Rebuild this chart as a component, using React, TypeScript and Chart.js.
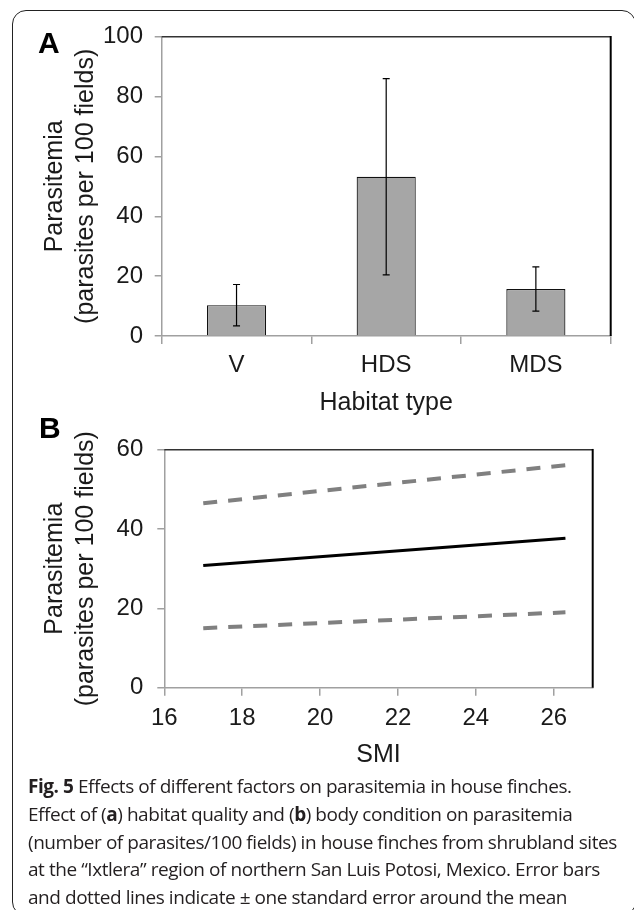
import React, { useEffect, useRef } from "react";
import { Chart, registerables } from "chart.js";

Chart.register(...registerables);

// ---------- data ----------
const habitats = ["V", "HDS", "MDS"];
const habitatMeans = [10.3, 53.2, 15.7];
const habitatErrors = [6.9, 32.8, 7.4];

const smiValues = [17.0, 26.3];
const meanLine = [30.8, 37.7];
const upperLine = [46.5, 56.1];
const lowerLine = [15.0, 19.0];

const yTitle = ["Parasitemia", "(parasites per 100 fields)"];

// ---------- styles ----------
const FONT = "'Liberation Sans', Arial, sans-serif";
const AXIS_GRAY = "#a0a0a0";
const TEXT = "#1a1a1a";

Chart.defaults.font.family = FONT;

const framePlugin = {
  id: "frame",
  afterDraw(chart: any) {
    const { ctx, chartArea } = chart;
    const { left, right, top, bottom } = chartArea;
    ctx.save();
    ctx.strokeStyle = "#333";
    ctx.lineWidth = 1.5;
    ctx.beginPath();
    ctx.moveTo(left, top);
    ctx.lineTo(right, top);
    ctx.stroke();
    ctx.strokeStyle = "#000";
    ctx.lineWidth = 2;
    ctx.beginPath();
    ctx.moveTo(right, top - 0.75);
    ctx.lineTo(right, bottom);
    ctx.stroke();
    ctx.restore();
  },
};

const errorBarPlugin = {
  id: "errorBars",
  afterDatasetsDraw(chart: any) {
    const { ctx } = chart;
    const xs = chart.scales.x;
    const ys = chart.scales.y;
    ctx.save();
    ctx.strokeStyle = "#000";
    ctx.lineWidth = 1.2;
    habitatMeans.forEach((m, i) => {
      const px = xs.getPixelForValue(i);
      const t = ys.getPixelForValue(m + habitatErrors[i]);
      const b = ys.getPixelForValue(m - habitatErrors[i]);
      ctx.beginPath();
      ctx.moveTo(px, t);
      ctx.lineTo(px, b);
      ctx.moveTo(px - 3.5, t);
      ctx.lineTo(px + 3.5, t);
      ctx.moveTo(px - 3.5, b);
      ctx.lineTo(px + 3.5, b);
      ctx.stroke();
    });
    ctx.restore();
  },
};

function axisGrid(tickLength: number) {
  return {
    drawOnChartArea: false,
    drawTicks: true,
    tickLength,
    color: AXIS_GRAY,
    lineWidth: 1.5,
  };
}

function ChartA() {
  const ref = useRef<HTMLCanvasElement>(null);
  useEffect(() => {
    if (!ref.current) return;
    const chart = new Chart(ref.current, {
      type: "bar",
      data: {
        labels: habitats,
        datasets: [
          {
            data: habitatMeans,
            backgroundColor: "#a6a6a6",
            borderColor: "#111",
            borderWidth: 1.2,
            categoryPercentage: 1,
            barPercentage: 0.395,
          },
        ],
      },
      options: {
        responsive: false,
        animation: false,
        layout: { padding: { left: 0, right: 23.3, top: 36.7, bottom: 12 } },
        plugins: { legend: { display: false }, tooltip: { enabled: false } },
        scales: {
          x: {
            type: "category",
            grid: { ...axisGrid(8), offset: true },
            border: { color: AXIS_GRAY, width: 1.5 },
            ticks: { color: TEXT, font: { size: 24 }, padding: 6.6 },
            title: {
              display: true,
              text: "Habitat type",
              color: TEXT,
              font: { size: 25, lineHeight: 1.2 },
              padding: 0,
            },
            afterFit: (s: any) => {
              s.height = 82;
            },
          },
          y: {
            min: 0,
            max: 100,
            grid: axisGrid(7),
            border: { color: AXIS_GRAY, width: 1.5 },
            ticks: { stepSize: 20, color: TEXT, font: { size: 24 }, padding: 11.7 },
            title: {
              display: true,
              text: yTitle,
              color: TEXT,
              font: { size: 25, lineHeight: 1.24 },
              padding: { top: 39.5, bottom: 0 },
            },
            afterFit: (s: any) => {
              s.width = 161.7;
            },
          },
        },
      },
      plugins: [errorBarPlugin, framePlugin],
    } as any);
    return () => chart.destroy();
  }, []);
  return (
    <canvas
      ref={ref}
      width={634}
      height={430}
      style={{ position: "absolute", left: 0, top: 0, width: 634, height: 430 }}
    />
  );
}

function ChartB() {
  const ref = useRef<HTMLCanvasElement>(null);
  useEffect(() => {
    if (!ref.current) return;
    const pts = (arr: number[]) => smiValues.map((x, i) => ({ x, y: arr[i] }));
    const dashed = {
      borderColor: "#808080",
      borderWidth: 4,
      borderDash: [14, 11],
      borderCapStyle: "butt",
      pointRadius: 0,
      fill: false,
    };
    const chart = new Chart(ref.current, {
      type: "line",
      data: {
        datasets: [
          { ...dashed, data: pts(upperLine) },
          { ...dashed, data: pts(lowerLine) },
          { data: pts(meanLine), borderColor: "#000", borderWidth: 3, pointRadius: 0, fill: false },
        ],
      },
      options: {
        responsive: false,
        animation: false,
        layout: { padding: { left: 0, right: 41.3, top: 29.7, bottom: 10 } },
        plugins: { legend: { display: false }, tooltip: { enabled: false } },
        scales: {
          x: {
            type: "linear",
            min: 16,
            max: 27,
            grid: axisGrid(8),
            border: { color: AXIS_GRAY, width: 1.5 },
            ticks: { stepSize: 2, includeBounds: false, color: TEXT, font: { size: 24 }, padding: 8.6 },
            title: {
              display: true,
              text: "SMI",
              color: TEXT,
              font: { size: 25, lineHeight: 1.2 },
              padding: 0,
            },
            afterFit: (s: any) => {
              s.height = 82.3;
            },
          },
          y: {
            min: 0,
            max: 60,
            grid: axisGrid(7),
            border: { color: AXIS_GRAY, width: 1.5 },
            ticks: { stepSize: 20, color: TEXT, font: { size: 24 }, padding: 14 },
            title: {
              display: true,
              text: yTitle,
              color: TEXT,
              font: { size: 25, lineHeight: 1.24 },
              padding: { top: 40, bottom: 0 },
            },
            afterFit: (s: any) => {
              s.width = 164.3;
            },
          },
        },
      },
      plugins: [framePlugin],
    } as any);
    return () => chart.destroy();
  }, []);
  return (
    <canvas
      ref={ref}
      width={634}
      height={360}
      style={{ position: "absolute", left: 0, top: 420, width: 634, height: 360 }}
    />
  );
}

const panelLabel: React.CSSProperties = {
  position: "absolute",
  fontFamily: FONT,
  fontWeight: "bold",
  fontSize: 30,
  lineHeight: "30px",
  color: "#000",
};

export default function App() {
  return (
    <div
      style={{
        position: "absolute",
        left: 0,
        top: 0,
        width: 634,
        height: 910,
        overflow: "hidden",
        background: "#fff",
      }}
    >
      <div
        style={{
          position: "absolute",
          left: 12,
          top: 10,
          width: 624,
          height: 906,
          boxSizing: "border-box",
          border: "1.5px solid #222",
          borderRadius: 14,
        }}
      />
      <ChartA />
      <ChartB />
      <div style={{ ...panelLabel, left: 38, top: 28 }}>A</div>
      <div style={{ ...panelLabel, left: 39, top: 413 }}>B</div>
      <div
        style={{
          position: "absolute",
          left: 28,
          top: 773,
          fontFamily: "'Open Sans', sans-serif",
          fontSize: 19,
          lineHeight: "27.8px",
          letterSpacing: -0.45,
          color: "#231f20",
          whiteSpace: "nowrap",
        }}
      >
        <b>Fig. 5</b> Effects of different factors on parasitemia in house finches.
        <br />
        Effect of (<b>a</b>) habitat quality and (<b>b</b>) body condition on parasitemia
        <br />
        (number of parasites/100 fields) in house finches from shrubland sites
        <br />
        at the “Ixtlera” region of northern San Luis Potosi, Mexico. Error bars
        <br />
        and dotted lines indicate ± one standard error around the mean
      </div>
    </div>
  );
}
